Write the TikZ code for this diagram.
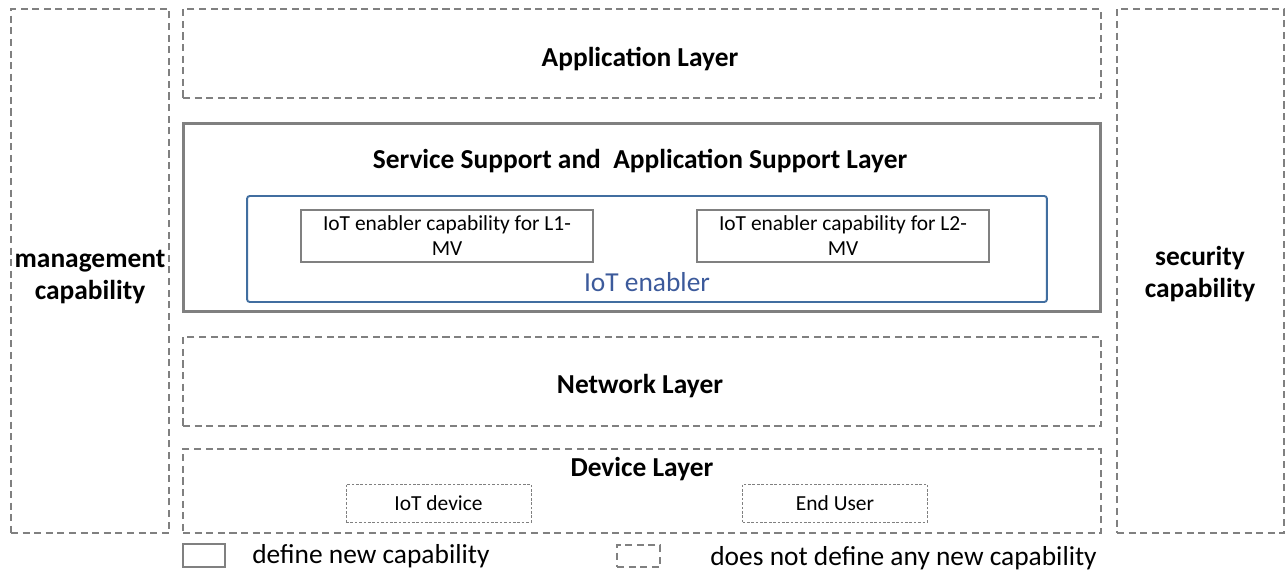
\documentclass[tikz,border=0pt]{standalone}
\usepackage{fontspec}
\setmainfont{Carlito}
\usetikzlibrary{positioning}
\definecolor{lyGray}{RGB}{128,128,128}
\definecolor{lyBlue}{RGB}{65,110,160}
\definecolor{lyText}{RGB}{60,90,155}
\newcommand{\bigfont}{\fontsize{15.6}{18.7}\selectfont}
\newcommand{\smallfont}{\fontsize{12.2}{14.2}\selectfont}

\begin{document}
\begin{tikzpicture}[
        x=0.02cm, y=-0.02cm,
        plain/.style={draw=lyGray, line width=0.85pt, dash pattern=on 4pt off 2.6pt, inner sep=0pt},
        defined/.style={draw=lyGray, line width=1.7pt, inner sep=0pt},
        enabler/.style={draw=lyBlue, line width=1.1pt, rounded corners=1.5pt, inner sep=0pt},
        capbox/.style={draw=lyGray, line width=1.1pt, inner sep=0pt, align=center, font=\smallfont, minimum width=5.84cm, minimum height=1.04cm},
        userbox/.style={draw=lyGray, line width=0.5pt, dash pattern=on 1.5pt off 1pt, inner sep=0pt, font=\smallfont, minimum width=3.7cm, minimum height=0.76cm},
        layer/.style={font=\bigfont\bfseries, inner sep=0pt},
        side/.style={font=\bigfont\bfseries, align=center, inner sep=0pt}
      ]
        \useasboundingbox (0,0) rectangle (1285,571);

        % side columns
        \node[plain, minimum width=3.16cm, minimum height=10.48cm] (mgmt) at (90,271) {};
        \node[side] (mgmtlabel) at (90,277) {management\\capability};
        \node[plain, minimum width=3.34cm, minimum height=10.48cm] (security) at (1200.5,271) {};
        \node[side] (seclabel) at (1200,274) {security\\capability};

        % layers
        \node[plain, minimum width=18.36cm, minimum height=1.78cm] (app) at (642,53.5) {};
        \node[layer] (applabel) at (640,59) {Application Layer};

        \node[defined, minimum width=18.36cm, minimum height=3.78cm] (support) at (642,217.5) {};
        \node[layer] (supportlabel) at (640,161) {Service Support and~~Application Support Layer};
        \node[enabler, minimum width=16cm, minimum height=2.12cm] (iot) at (647,249) {};
        \node[font=\bigfont, text=lyText, inner sep=0pt] (iotlabel) at (647,282) {IoT enabler};
        \node[capbox] (capone) at (447,236) {IoT enabler capability for L1-\\MV};
        \node[capbox] (captwo) at (843,236) {IoT enabler capability for L2-\\MV};

        \node[plain, minimum width=18.36cm, minimum height=1.78cm] (net) at (642,381.5) {};
        \node[layer] (netlabel) at (640,386) {Network Layer};

        \node[plain, minimum width=18.36cm, minimum height=1.68cm] (dev) at (642,491) {};
        \node[layer] (devlabel) at (642,469) {Device Layer};
        \node[userbox] (device) at (438.5,503) {IoT device};
        \node[userbox] (user) at (835,503) {End User};

        % legend
        \node[defined, minimum width=0.84cm, minimum height=0.46cm] (keynew) at (204,555.5) {};
        \node[font=\bigfont, inner sep=0pt, anchor=west] (keynewlabel) at (252,556) {define new capability};
        \node[plain, minimum width=0.86cm, minimum height=0.44cm] (keyold) at (638.5,556) {};
        \node[font=\bigfont, inner sep=0pt, anchor=west] (keyoldlabel) at (710,558) {does not define any new capability};
      \end{tikzpicture}
\end{document}
